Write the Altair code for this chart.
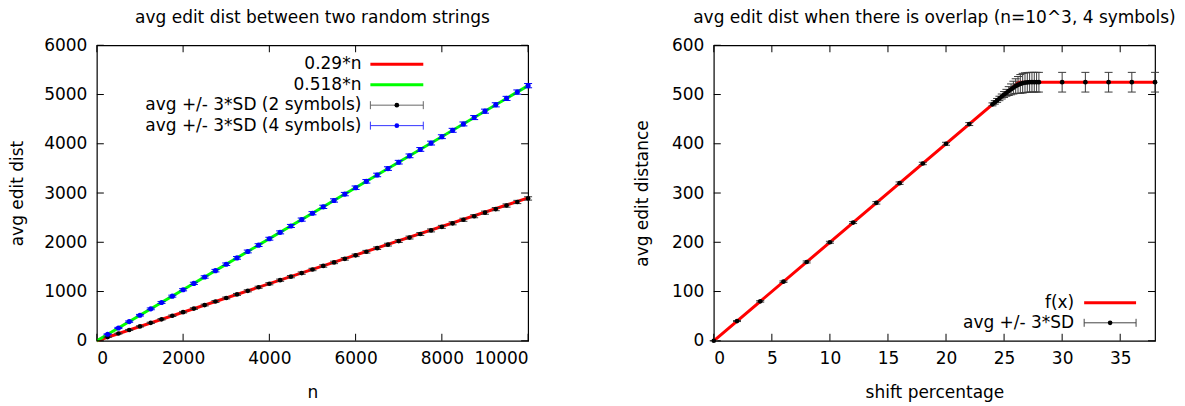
import altair as alt
import pandas as pd

FONT = "DejaVu Sans"
FS = 17

# ---------------- left panel data ----------------
n_vals = [250, 500, 750, 1000, 1250, 1500, 1750, 2000, 2250, 2500, 2750, 3000, 3250, 3500,
          3750, 4000, 4250, 4500, 4750, 5000, 5250, 5500, 5750, 6000, 6250, 6500, 6750, 7000,
          7250, 7500, 7750, 8000, 8250, 8500, 8750, 9000, 9250, 9500, 9750, 10000]
avg2 = [74, 147, 219, 292, 364, 436, 508, 580, 653, 725, 797, 869, 941, 1014, 1086, 1158,
        1230, 1302, 1374, 1447, 1519, 1591, 1663, 1735, 1808, 1880, 1952, 2024, 2096, 2168,
        2241, 2313, 2385, 2457, 2529, 2601, 2673, 2746, 2818, 2890]
err2 = [7, 9, 11, 12, 13, 14, 15, 16, 17, 18, 19, 19, 20, 21, 21, 22, 23, 23, 24, 24,
        25, 25, 26, 26, 27, 27, 28, 28, 29, 29, 30, 30, 31, 31, 31, 32, 32, 33, 33, 34]
avg4 = [131, 260, 389, 519, 648, 777, 906, 1036, 1165, 1295, 1424, 1554, 1683, 1813, 1942,
        2072, 2201, 2331, 2460, 2590, 2719, 2849, 2978, 3108, 3237, 3367, 3496, 3626, 3755,
        3885, 4014, 4144, 4273, 4403, 4532, 4662, 4791, 4921, 5050, 5180]
err4 = [9, 12, 14, 16, 18, 19, 20, 22, 23, 24, 25, 26, 27, 28, 28, 29, 30, 31, 32, 32,
        33, 34, 34, 35, 36, 36, 37, 37, 38, 38, 39, 39, 40, 40, 41, 41, 42, 42, 43, 43]
fit_n = [0, 10000]
fit_029 = [0, 2900]
fit_0518 = [0, 5180]
xticks_l = [0, 2000, 4000, 6000, 8000, 10000]
yticks_l = [0, 1000, 2000, 3000, 4000, 5000, 6000]
legend_l = ["0.29*n", "0.518*n", "avg +/- 3*SD (2 symbols)", "avg +/- 3*SD (4 symbols)"]
title_l = "avg edit dist between two random strings"

# ---------------- right panel data ----------------
shift = [0, 2, 4, 6, 8, 10, 12, 14, 16, 18, 20, 22, 24,
         24.2, 24.4, 24.6, 24.8, 25, 25.2, 25.4, 25.6, 25.8, 26, 26.2, 26.4, 26.6, 26.8,
         27, 27.2, 27.4, 27.6, 27.8, 28, 30, 32, 34, 36, 38]
avg_r = [0, 40, 80, 120, 160, 200, 240, 280, 320, 360, 400, 440, 480,
         484, 488, 492, 496, 500, 503.5, 507, 510.5, 514, 517, 519.5, 521.5, 523, 524,
         524.5, 525, 525, 525, 525, 525, 525, 525, 525, 525, 525]
err_r = [0.5, 1, 1.5, 1.5, 2, 2, 2, 2.5, 2.5, 2.5, 3, 3, 3,
         3.5, 4, 4.5, 5, 6, 7, 9, 11, 13, 15, 17, 19, 20, 20,
         20, 20, 20, 20, 20, 20, 20, 20, 20, 20, 20]
f_x = [0, 26.25, 38]
f_y = [0, 525, 525]
xticks_r = [0, 5, 10, 15, 20, 25, 30, 35]
yticks_r = [0, 100, 200, 300, 400, 500, 600]
legend_r = ["f(x)", "avg +/- 3*SD"]
title_r = "avg edit dist when there is overlap (n=10^3, 4 symbols)"

TICK = 7
CAP = 4
BAR_GRAY = "#3a3a3a"


def err_df(xs, ys, es):
    return pd.DataFrame({"x": xs, "y": ys,
                         "lo": [a - b for a, b in zip(ys, es)],
                         "hi": [a + b for a, b in zip(ys, es)]})


def data_layers(df, X, Y, point_color, bar_color, size):
    bars = alt.Chart(df).mark_rule(color=bar_color, strokeWidth=1).encode(
        x=X("x:Q"), y=Y("lo:Q"), y2="hi:Q")
    cap_lo = alt.Chart(df).mark_rule(color=bar_color, strokeWidth=1, xOffset=-CAP, x2Offset=CAP).encode(
        x=X("x:Q"), x2="x:Q", y=Y("lo:Q"))
    cap_hi = alt.Chart(df).mark_rule(color=bar_color, strokeWidth=1, xOffset=-CAP, x2Offset=CAP).encode(
        x=X("x:Q"), x2="x:Q", y=Y("hi:Q"))
    pts = alt.Chart(df).mark_circle(color=point_color, size=size, opacity=1).encode(
        x=X("x:Q"), y=Y("y:Q"))
    return [bars, cap_lo, cap_hi, pts]


def tick_layers(xt, yt, X, Y, W, H):
    dx = pd.DataFrame({"x": xt})
    dy = pd.DataFrame({"y": yt})
    out = []
    for a, b in [(H, H - TICK), (0, TICK)]:
        out.append(alt.Chart(dx).mark_rule(color="black", strokeWidth=1).encode(
            x=X("x:Q"), y=alt.value(a), y2=alt.value(b)))
    for a, b in [(0, TICK), (W, W - TICK)]:
        out.append(alt.Chart(dy).mark_rule(color="black", strokeWidth=1).encode(
            y=Y("y:Q"), x=alt.value(a), x2=alt.value(b)))
    return out


one = pd.DataFrame({"k": [0]})


def leg_text(label, tx, ty):
    return alt.Chart(pd.DataFrame({"label": [label]})).mark_text(
        align="right", baseline="middle", font=FONT, fontSize=FS, color="black").encode(
        x=alt.value(tx), y=alt.value(ty), text="label:N")


def leg_line(x1, x2, ty, color):
    return alt.Chart(one).mark_rule(color=color, strokeWidth=3).encode(
        x=alt.value(x1), x2=alt.value(x2), y=alt.value(ty))


def leg_err(x1, x2, ty, pcolor, bcolor, size):
    xm = (x1 + x2) / 2
    return [
        alt.Chart(one).mark_rule(color=bcolor, strokeWidth=1).encode(
            x=alt.value(x1), x2=alt.value(x2), y=alt.value(ty)),
        alt.Chart(one).mark_rule(color=bcolor, strokeWidth=1).encode(
            x=alt.value(x1), y=alt.value(ty - CAP), y2=alt.value(ty + CAP)),
        alt.Chart(one).mark_rule(color=bcolor, strokeWidth=1).encode(
            x=alt.value(x2), y=alt.value(ty - CAP), y2=alt.value(ty + CAP)),
        alt.Chart(one).mark_circle(color=pcolor, size=size, opacity=1).encode(
            x=alt.value(xm), y=alt.value(ty)),
    ]


def make_xy(xdom, ydom, xt, yt, xtitle, ytitle, W, H, ytitle_x):
    xs = alt.Scale(domain=xdom, nice=False, zero=False)
    ys = alt.Scale(domain=ydom, nice=False, zero=False)
    xa = alt.Axis(values=xt, ticks=False, tickSize=0, domain=False, grid=False, format="d",
                  labelPadding=10, title=xtitle, titleX=W / 2, titleY=52,
                  titleAlign="center", titleBaseline="middle")
    ya = alt.Axis(values=yt, ticks=False, tickSize=0, domain=False, grid=False, format="d",
                  labelPadding=10, title=ytitle, titleX=ytitle_x, titleY=H / 2,
                  titleAngle=-90, titleAlign="center", titleBaseline="middle")

    def X(f):
        return alt.X(f, scale=xs, axis=xa)

    def Y(f):
        return alt.Y(f, scale=ys, axis=ya)
    return X, Y


# ---------------- left panel ----------------
WL, HL = 432, 296
XL, YL = make_xy([0, 10000], [0, 6000], xticks_l, yticks_l, "n", "avg edit dist", WL, HL, -79)
fit_df = pd.DataFrame({"x": fit_n, "a": fit_029, "b": fit_0518})

red_l = alt.Chart(fit_df).mark_line(color="#ff0000", strokeWidth=3).encode(x=XL("x:Q"), y=YL("a:Q"))
green_l = alt.Chart(fit_df).mark_line(color="#00ff00", strokeWidth=3).encode(x=XL("x:Q"), y=YL("b:Q"))

left_layers = [red_l, green_l]
left_layers += tick_layers(xticks_l, yticks_l, XL, YL, WL, HL)
left_layers += data_layers(err_df(n_vals, avg2, err2), XL, YL, "black", BAR_GRAY, 22)
left_layers += data_layers(err_df(n_vals, avg4, err4), XL, YL, "#0000ff", "#0000ff", 26)
rows_l = [19, 39.5, 60, 80.5]
left_layers += [leg_text(legend_l[i], 265, rows_l[i]) for i in range(4)]
left_layers += [leg_line(274, 327, rows_l[0], "#ff0000"), leg_line(274, 327, rows_l[1], "#00ff00")]
left_layers += leg_err(274, 327, rows_l[2], "black", "#666666", 22)
left_layers += leg_err(274, 327, rows_l[3], "#0000ff", "#3333ff", 22)

left = alt.layer(*left_layers).properties(width=WL, height=HL, title=title_l)

# ---------------- right panel ----------------
WR, HR = 442, 296
XR, YR = make_xy([0, 38], [0, 600], xticks_r, yticks_r, "shift percentage", "avg edit distance", WR, HR, -71)
f_df = pd.DataFrame({"x": f_x, "y": f_y})

red_r = alt.Chart(f_df).mark_line(color="#ff0000", strokeWidth=3).encode(x=XR("x:Q"), y=YR("y:Q"))

right_layers = [red_r]
right_layers += tick_layers(xticks_r, yticks_r, XR, YR, WR, HR)
right_layers += data_layers(err_df(shift, avg_r, err_r), XR, YR, "black", BAR_GRAY, 22)
rows_r = [258, 278]
right_layers += [leg_text(legend_r[i], 361, rows_r[i]) for i in range(2)]
right_layers += [leg_line(371, 423, rows_r[0], "#ff0000")]
right_layers += leg_err(371, 423, rows_r[1], "black", "#444444", 22)

right = alt.layer(*right_layers).properties(width=WR, height=HR, title=title_r)

chart = alt.hconcat(left, right, spacing=186, bounds="flush").configure_view(
    stroke="black", strokeWidth=1.2
).configure_axis(
    labelFont=FONT, labelFontSize=FS, titleFont=FONT, titleFontSize=FS,
    titleFontWeight="normal", labelColor="black", titleColor="black"
).configure_title(
    font=FONT, fontSize=FS, fontWeight="normal", color="black", offset=9
).properties(padding=0)

chart.save("out.html", embed_options={"renderer": "svg", "actions": False})
